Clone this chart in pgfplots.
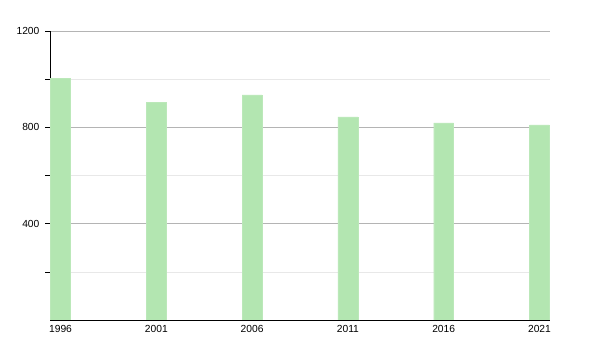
\documentclass[border=0pt]{standalone}
\usepackage{pgfplots}
\pgfplotsset{compat=1.18}
\usepackage{fontspec}
\setmainfont{Liberation Sans}
\definecolor{barg}{HTML}{B3E6B1}
\definecolor{majg}{HTML}{B4B4B4}
\definecolor{ming}{HTML}{E8E8E8}
\begin{document}
\fontsize{10.3}{12}\selectfont
\begin{tikzpicture}
\useasboundingbox (-50bp,-30bp) rectangle (550bp,320bp);
\begin{axis}[
  at={(0,0)}, anchor=south west,
  scale only axis, width=500bp, height=289bp,
  xmin=1995.45, xmax=2021.55, ymin=0, ymax=1200,
  axis x line*=bottom, axis y line*=left,
  axis line style={black, line width=0.8pt},
  xtick={1996,2001,2006,2011,2016,2021},
  xticklabels={1996,2001,2006,2011,2016,2021},
  x tick style={draw=none},
  xticklabel style={yshift=3bp},
  ytick={400,800,1200},
  minor ytick={200,600,1000},
  tick align=outside,
  major tick length=5bp, minor tick length=5bp,
  y tick style={black, line width=0.6pt},
  ymajorgrids, yminorgrids,
  major grid style={majg, line width=0.6pt},
  minor grid style={ming, line width=0.6pt},
  yticklabel style={xshift=-2bp},
  tick label style={font=\fontsize{10.3}{12}\selectfont},
  /pgf/number format/assume math mode=true,
  /pgf/number format/1000 sep={},
  axis on top=false,
]
\addplot[ybar, bar width=1.04, fill=barg, draw=barg!90!white, bar shift=0pt] coordinates {
(1996,1004) (2001,905) (2006,935) (2011,843) (2016,818) (2021,810)
};
\end{axis}
\end{tikzpicture}
\end{document}
